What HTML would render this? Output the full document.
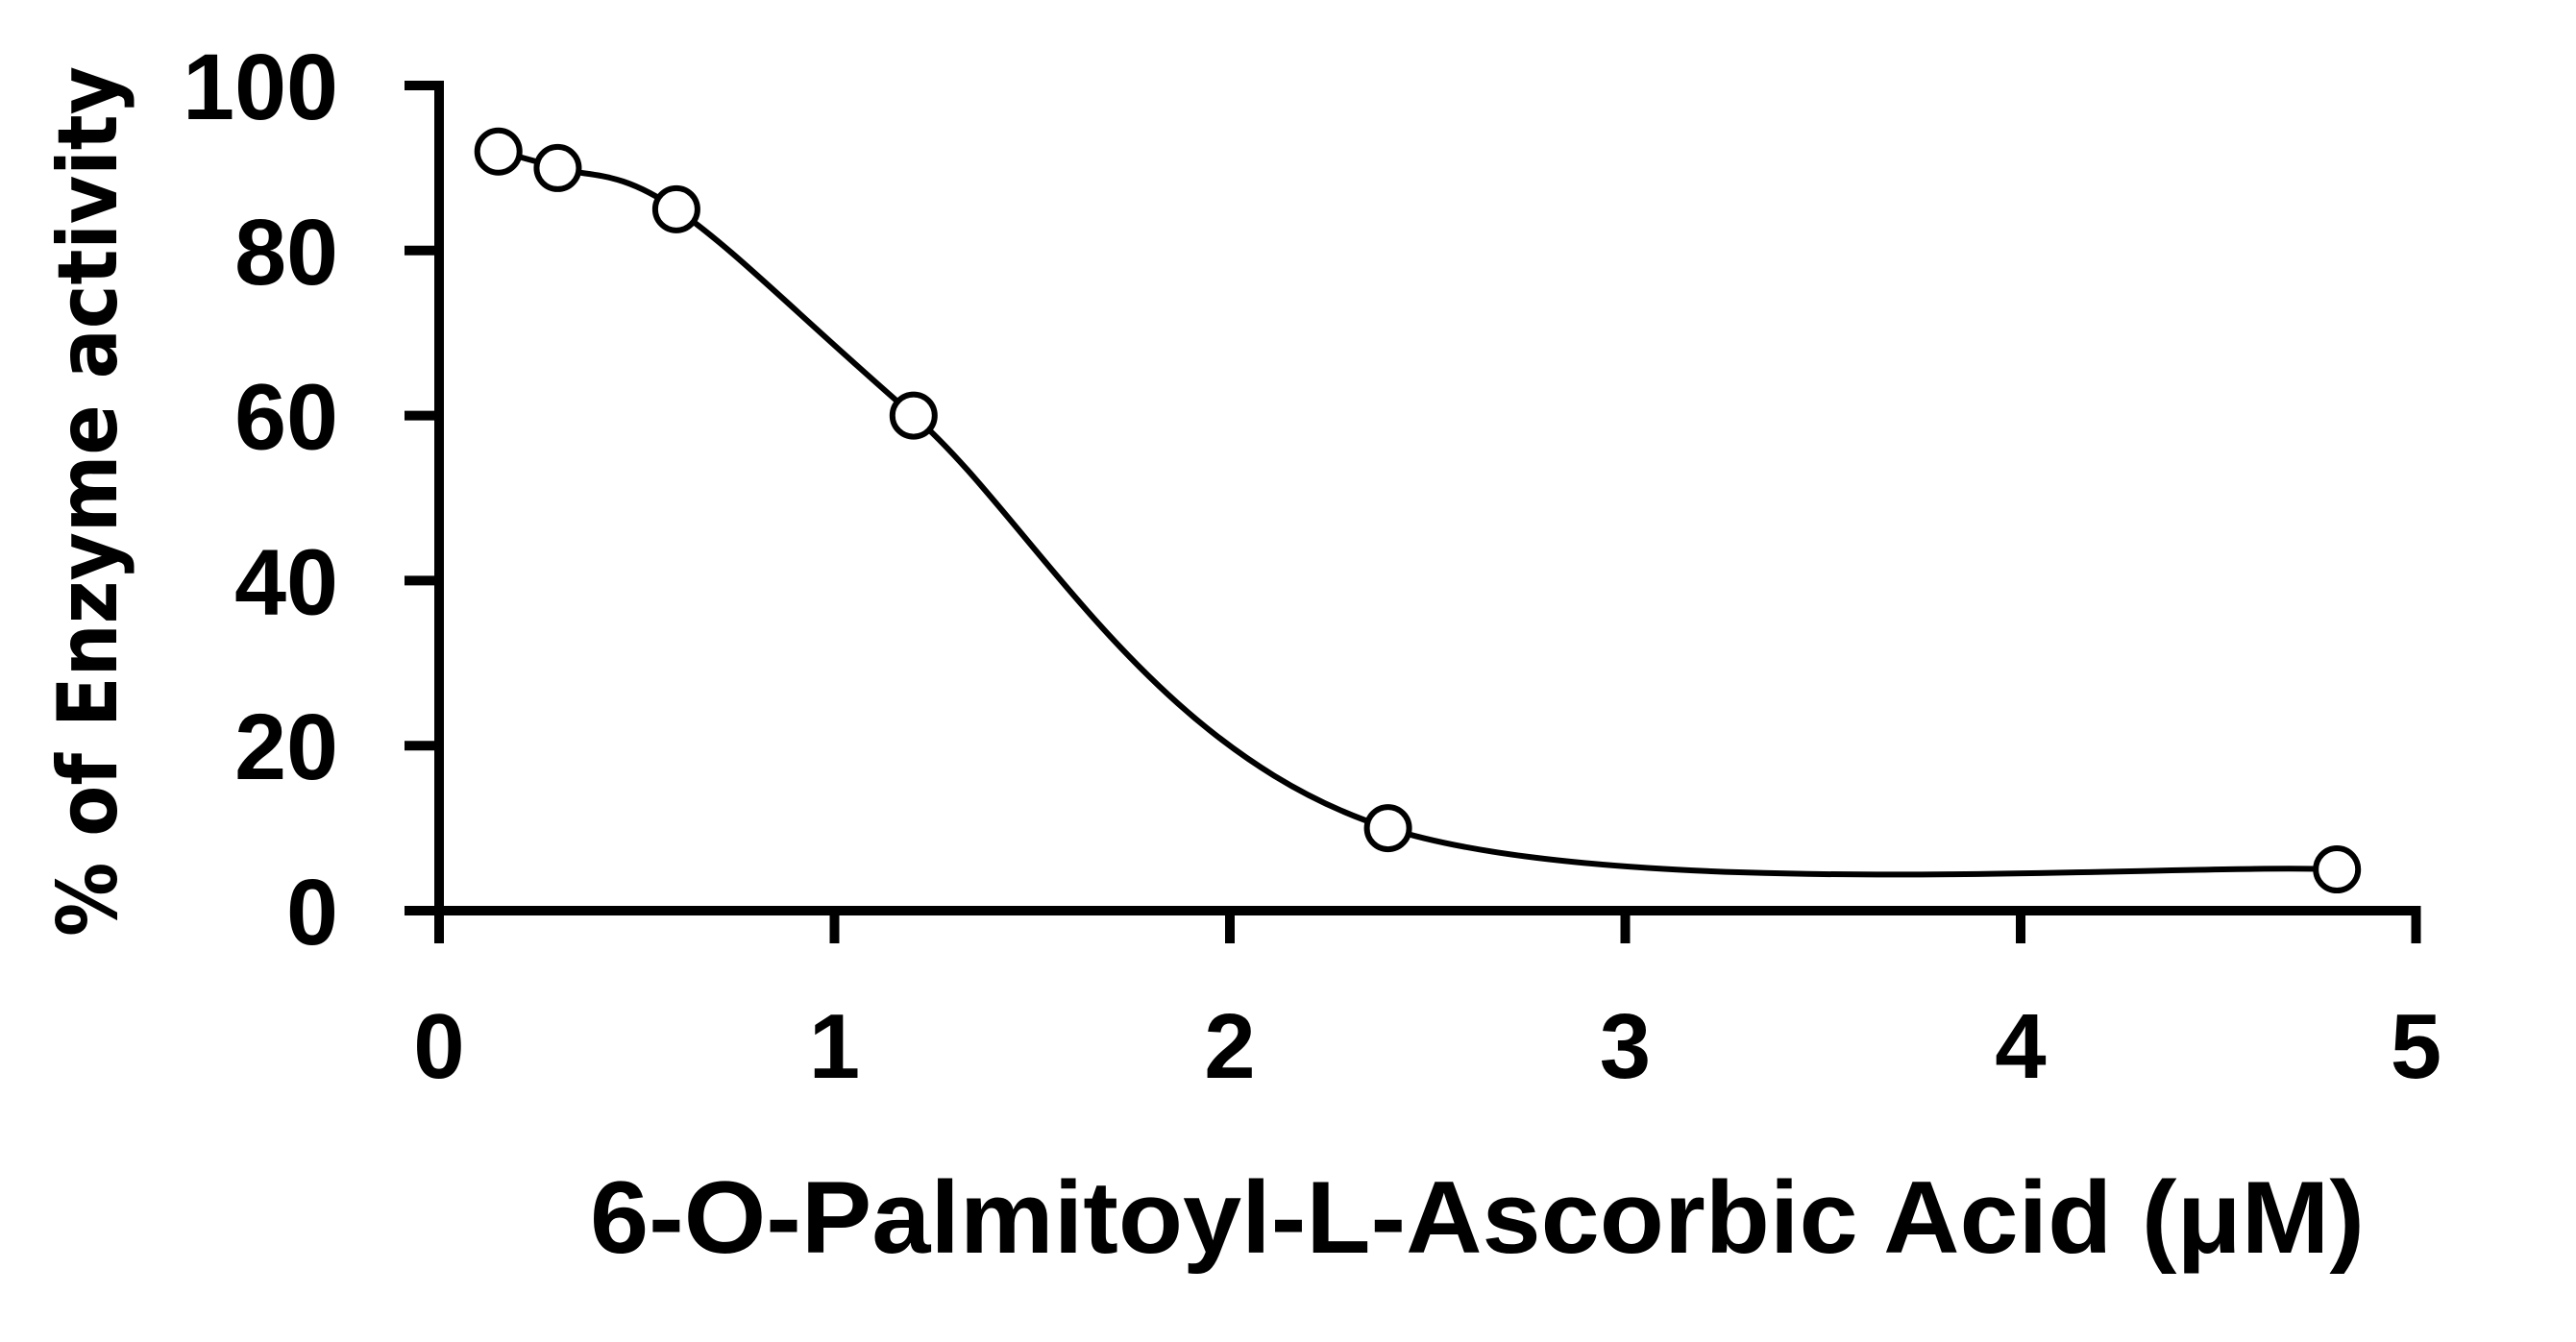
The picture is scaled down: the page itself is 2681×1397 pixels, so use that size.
<!DOCTYPE html>
<html><head><meta charset="utf-8"><style>
html,body{margin:0;padding:0;background:#fff;}
svg{display:block;}
text{font-family:"Liberation Sans",sans-serif;font-weight:bold;fill:#000;}
</style></head><body>
<svg id="chart" width="2681" height="1397" viewBox="0 0 2681 1397" xmlns="http://www.w3.org/2000/svg">
<g id="axes"></g>
<path id="curve" fill="none" stroke="#000" stroke-width="6"></path>
<g id="points"></g>
<text x="614" y="1304" font-size="107" textLength="1847" lengthAdjust="spacingAndGlyphs">6-O-Palmitoyl-L-Ascorbic Acid (μM)</text>
<text transform="translate(121,522) rotate(-90)" text-anchor="middle" font-size="86" textLength="906" lengthAdjust="spacingAndGlyphs" style="font-family:'DejaVu Sans',sans-serif">% of Enzyme activity</text>
</svg>
<script>
const xValues = [0.15, 0.3, 0.6, 1.2, 2.4, 4.8];
const yValues = [92, 90, 85, 60, 10, 5];
const xTicks = [0, 1, 2, 3, 4, 5];
const yTicks = [0, 20, 40, 60, 80, 100];
const NS = "http://www.w3.org/2000/svg";
const X0 = 457, XS = 411.5, Y0 = 948, YS = 8.59;
function sx(v){return X0 + v*XS;}
function sy(v){return Y0 - v*YS;}
function mk(tag, attrs, parent){
  const e = document.createElementNS(NS, tag);
  for (const k in attrs) e.setAttribute(k, attrs[k]);
  parent.appendChild(e);
  return e;
}
const axes = document.getElementById('axes');
let yl = mk('line', {x1:X0, y1:sy(100)-5, x2:X0, y2:982, stroke:'#000', 'stroke-width':10}, axes);


let xl = mk('line', {x1:421, y1:Y0, x2:sx(5)+5, y2:Y0, stroke:'#000', 'stroke-width':10}, axes);


yTicks.forEach(t => {
  const l = mk('line', {x1:421, y1:sy(t), x2:X0, y2:sy(t), stroke:'#000', 'stroke-width':10}, axes);
  
  
  const tx = mk('text', {x:352, y:sy(t)+35, 'text-anchor':'end', 'font-size':97}, axes);
  tx.textContent = t;
  
  
});
xTicks.forEach(t => {
  const l = mk('line', {x1:sx(t), y1:Y0, x2:sx(t), y2:982, stroke:'#000', 'stroke-width':10}, axes);
  
  
  const tx = mk('text', {x:sx(t), y:1122, 'text-anchor':'middle', 'font-size':96}, axes);
  tx.textContent = t;
  
  
});
const P = xValues.map((x,i)=>[sx(x), sy(yValues[i])]);
let d = 'M' + P[0][0] + ',' + P[0][1];
for (let i=0;i<P.length-1;i++){
  const p0 = P[Math.max(i-1,0)], p1 = P[i], p2 = P[i+1], p3 = P[Math.min(i+2,P.length-1)];
  const c1 = [p1[0]+(p2[0]-p0[0])/6, p1[1]+(p2[1]-p0[1])/6];
  const c2 = [p2[0]-(p3[0]-p1[0])/6, p2[1]-(p3[1]-p1[1])/6];
  d += ' C' + c1 + ' ' + c2 + ' ' + p2;
}
document.getElementById('curve').setAttribute('d', d);
const pts = document.getElementById('points');
P.forEach(p => {
  const c = mk('circle', {cx:p[0], cy:p[1], r:22, fill:'#fff', stroke:'#000', 'stroke-width':6}, pts);
  
  
});
</script>
</body></html>
